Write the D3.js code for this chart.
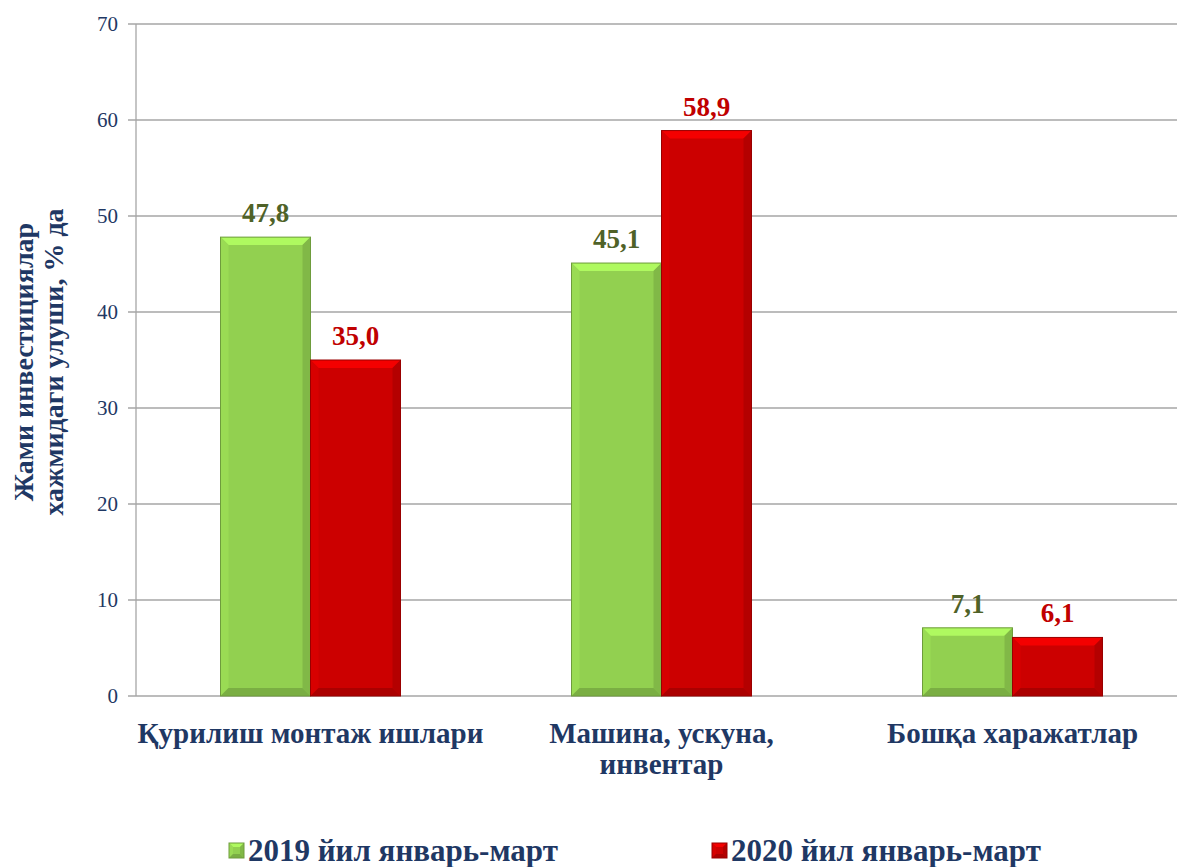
<!DOCTYPE html>
<html>
<head>
<meta charset="utf-8">
<script src="https://cdn.jsdelivr.net/npm/d3@7"></script>
<style>
  body { margin: 0; background: #fff; }
  text { font-family: "Liberation Serif", "Times New Roman", serif; }
</style>
</head>
<body>
<svg id="chart" width="1177" height="867"></svg>
<script>
var categories = [["Қурилиш монтаж ишлари"], ["Машина, ускуна,", "инвентар"], ["Бошқа харажатлар"]];
var seriesNames = ["2019 йил январь-март", "2020 йил январь-март"];
var values2019 = [47.8, 45.1, 7.1];
var values2020 = [35.0, 58.9, 6.1];
var yTicks = [0, 10, 20, 30, 40, 50, 60, 70];

var colors = ["#92d050", "#cc0000"];
var labelColors = ["#4f6228", "#c00000"];
var navy = "#1f3864";

var svg = d3.select("#chart");
var plotTop = 24, plotBottom = 696, plotLeft = 135, plotRight = 1188;

var y = d3.scaleLinear().domain([0, 70]).range([plotBottom, plotTop]);
var x = d3.scaleBand().domain(d3.range(categories.length)).range([plotLeft, plotRight]);
var bw = 90;

// gridlines
svg.append("g").selectAll("line").data(yTicks).enter().append("line")
    .attr("x1", plotLeft - 7).attr("x2", 1177)
    .attr("y1", function(d) { return y(d); }).attr("y2", function(d) { return y(d); })
    .attr("stroke", "#a6a6a6").attr("stroke-width", 1.3);

svg.append("line").attr("x1", plotLeft + 1).attr("x2", plotLeft + 1).attr("y1", plotTop).attr("y2", plotBottom)
    .attr("stroke", "#a6a6a6").attr("stroke-width", 1.3);

svg.append("g").selectAll("text").data(yTicks).enter().append("text")
    .attr("x", plotLeft - 17).attr("y", function(d) { return y(d) + 7; })
    .attr("text-anchor", "end").attr("font-size", 21).attr("fill", navy)
    .text(function(d) { return d; });

// axis title
var yt = svg.append("text").attr("transform", "translate(33,362) rotate(-90)")
    .attr("text-anchor", "middle").attr("font-size", 28).attr("font-weight", "bold").attr("fill", navy);
yt.append("tspan").attr("x", 0).attr("dy", 0).text("Жами инвестициялар");
yt.append("tspan").attr("x", 0).attr("dy", 30).text("хажмидаги улуши, % да");

function bevelBar(g, x0, y0, w, h, color, bev) {
    var b = Math.min(bev, h / 2);
    var c = d3.color(color);
    g.append("rect").attr("x", x0).attr("y", y0).attr("width", w).attr("height", h).attr("fill", color);
    // top light
    g.append("polygon").attr("points", [[x0, y0], [x0 + w, y0], [x0 + w - b, y0 + b], [x0 + b, y0 + b]].join(" "))
        .attr("fill", c.brighter(0.5));
    // left
    g.append("polygon").attr("points", [[x0, y0], [x0 + b, y0 + b], [x0 + b, y0 + h - b], [x0, y0 + h]].join(" "))
        .attr("fill", c.brighter(0.15));
    // right dark
    g.append("polygon").attr("points", [[x0 + w, y0], [x0 + w, y0 + h], [x0 + w - b, y0 + h - b], [x0 + w - b, y0 + b]].join(" "))
        .attr("fill", c.darker(0.35));
    // bottom dark
    g.append("polygon").attr("points", [[x0, y0 + h], [x0 + b, y0 + h - b], [x0 + w - b, y0 + h - b], [x0 + w, y0 + h]].join(" "))
        .attr("fill", c.darker(0.5));
    g.append("rect").attr("x", x0).attr("y", y0).attr("width", w).attr("height", h)
        .attr("fill", "none").attr("stroke", c.darker(0.8)).attr("stroke-width", 1);
}

var series = [values2019, values2020];
series.forEach(function(vals, si) {
    var g = svg.append("g");
    vals.forEach(function(v, i) {
        var cx = x(i) + x.bandwidth() / 2;
        var x0 = cx - bw + si * bw;
        bevelBar(g, x0, y(v), bw, y(0) - y(v), colors[si], 8);
        g.append("text").attr("x", x0 + bw / 2).attr("y", y(v) - 15)
            .attr("text-anchor", "middle").attr("font-size", 27).attr("font-weight", "bold")
            .attr("fill", labelColors[si]).text(v.toFixed(1).replace(".", ","));
    });
});

// category labels
categories.forEach(function(lines, i) {
    var t = svg.append("text").attr("text-anchor", "middle").attr("font-size", 29).attr("font-weight", "bold").attr("fill", navy);
    lines.forEach(function(l, j) {
        t.append("tspan").attr("x", x(i) + x.bandwidth() / 2).attr("y", 743 + j * 31).text(l);
    });
});

// legend
var legX = [229, 712];
seriesNames.forEach(function(n, i) {
    var g = svg.append("g");
    bevelBar(g, legX[i], 843, 15, 15, colors[i], 4);
    g.append("text").attr("x", legX[i] + 19).attr("y", 861).attr("font-size", 31).attr("font-weight", "bold")
        .attr("fill", navy).text(n);
});
</script>
</body>
</html>
